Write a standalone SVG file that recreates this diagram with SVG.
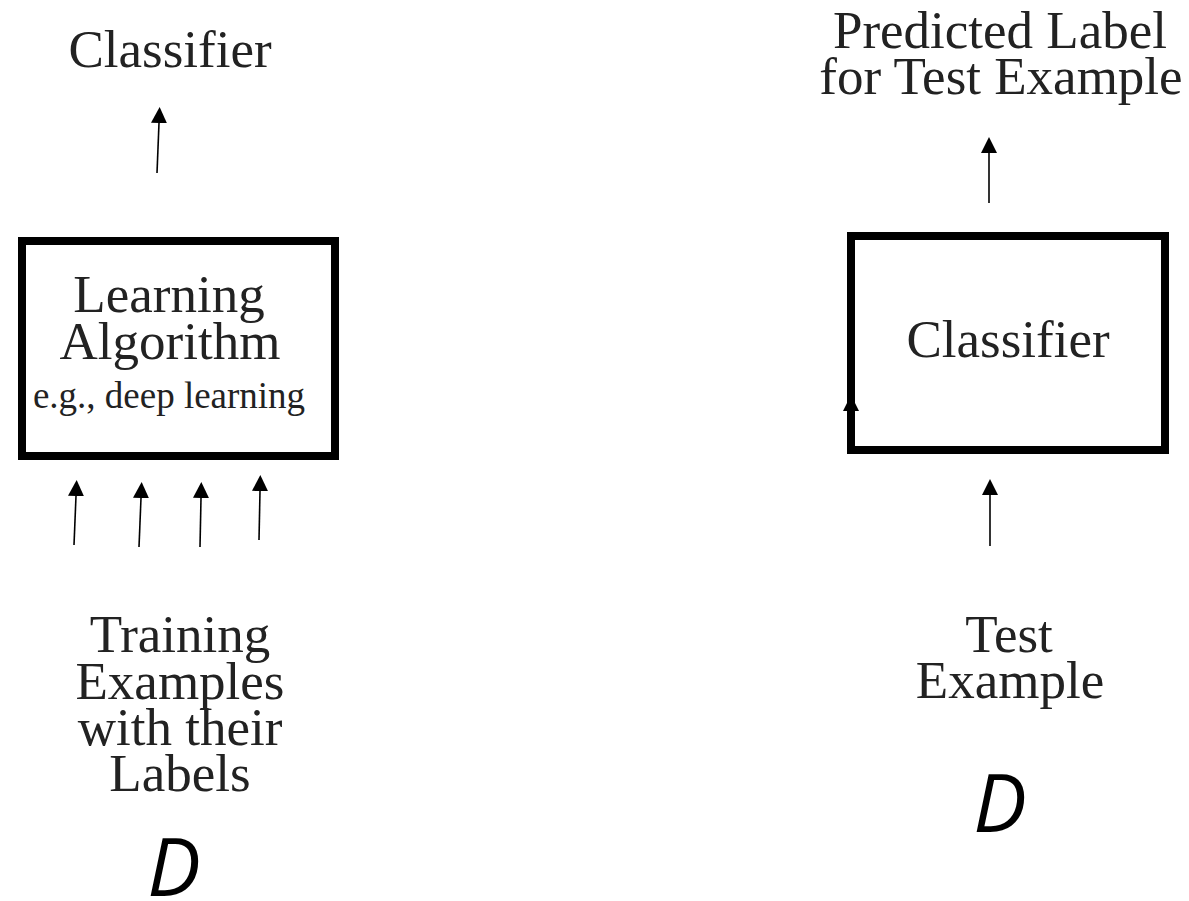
<svg xmlns="http://www.w3.org/2000/svg" width="1189" height="901" viewBox="0 0 1189 901">
  <style>
    .t { font-family: "Liberation Serif", "Times New Roman", serif; fill: #222; text-anchor: middle; }
    .big { font-size: 53px; }
    .small { font-size: 37px; }
    .d { font-family: "Open Sans", "Noto Sans", sans-serif; font-style: italic; font-size: 80px; fill: #000; text-anchor: middle; }
    .box { fill: #fff; stroke: #000; stroke-width: 8; }
    .conn { stroke: #000; stroke-width: 1.6; fill: none; marker-end: url(#arrow); }
  </style>
  <defs>
    <marker id="arrow" markerUnits="userSpaceOnUse" markerWidth="16" markerHeight="16" refX="0" refY="8" orient="auto" viewBox="0 0 16 16">
      <path d="M0,0 L16,8 L0,16 z" fill="#000"/>
    </marker>
  </defs>
  <rect width="1189" height="901" fill="#fff"/>

  <g id="node-learning">
    <rect class="box" x="22" y="241" width="313" height="215"/>
    <text class="t big" x="169" y="312">Learning</text>
    <text class="t big" x="170" y="359">Algorithm</text>
    <text class="t small" x="169" y="408">e.g., deep learning</text>
  </g>

  <g id="node-classifier-box">
    <rect class="box" x="851" y="236" width="314" height="214"/>
    <text class="t big" x="1008" y="357">Classifier</text>
  </g>

  <g id="node-classifier-out">
    <text class="t big" x="170" y="67">Classifier</text>
  </g>

  <g id="node-predicted">
    <text class="t big" x="1000" y="48">Predicted Label</text>
    <text class="t big" x="1001" y="94">for Test Example</text>
  </g>

  <g id="node-training">
    <text class="t big" x="180" y="652">Training</text>
    <text class="t big" x="180" y="699">Examples</text>
    <text class="t big" x="180" y="745">with their</text>
    <text class="t big" x="180" y="791">Labels</text>
    <text class="d" x="174" y="896">D</text>
  </g>

  <g id="node-test">
    <text class="t big" x="1009" y="652">Test</text>
    <text class="t big" x="1010" y="698">Example</text>
    <text class="d" x="1000" y="832">D</text>
  </g>

  <g id="connectors">
    <line class="conn" x1="74" y1="545" x2="76" y2="496"/>
    <line class="conn" x1="139" y1="547" x2="141" y2="498"/>
    <line class="conn" x1="200" y1="547" x2="201" y2="498"/>
    <line class="conn" x1="259" y1="540" x2="260" y2="491"/>
    <line class="conn" x1="157" y1="173" x2="159" y2="123"/>
    <line class="conn" x1="989" y1="203" x2="989" y2="153"/>
    <line class="conn" x1="990" y1="546" x2="990" y2="495"/>
    <line class="conn" x1="851" y1="449" x2="851" y2="411"/>
  </g>
</svg>
